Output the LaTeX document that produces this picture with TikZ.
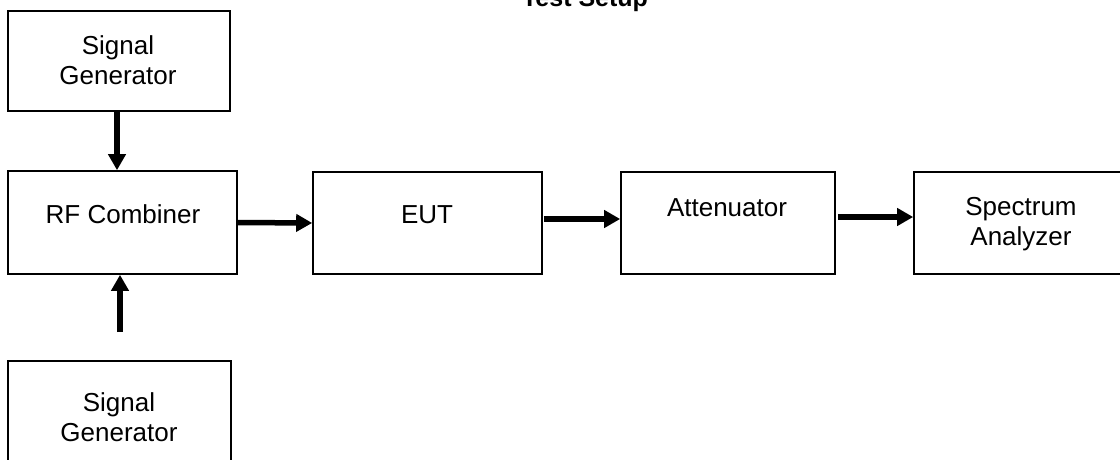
\documentclass[tikz,border=0pt]{standalone}
\usepackage{fontspec}
\setmainfont{Liberation Sans}
\usetikzlibrary{arrows.meta}
\begin{document}
\begin{tikzpicture}[x=1pt,y=-1pt,
  box/.style={draw=black,line width=1.6pt,rectangle,inner sep=0pt},
  lbl/.style={inner sep=0pt,font=\fontsize{26}{30}\selectfont,align=center},
  arr/.style={line width=5.5pt,-{Triangle[length=16pt,width=17pt]}},
  ttl/.style={inner sep=0pt,font=\fontsize{25}{30}\selectfont\bfseries}]
\useasboundingbox (0,0) rectangle (1120,460);
\node[ttl,anchor=base] (title) at (585,7) {Test Setup};
\node[box,minimum width=222pt,minimum height=100pt] (sg1) at (119,61) {};
\node[box,minimum width=229pt,minimum height=103pt] (rf) at (122.5,222.5) {};
\node[box,minimum width=223pt,minimum height=100pt] (sg2) at (119.5,411) {};
\node[box,minimum width=229pt,minimum height=102pt] (eut) at (427.5,223) {};
\node[box,minimum width=214pt,minimum height=102pt] (att) at (728,223) {};
\node[box,minimum width=214pt,minimum height=102pt] (sa) at (1021,223) {};
\node[lbl] (sg1t) at (118,60.5) {Signal\\Generator};
\node[lbl,anchor=base] (rft) at (123,223) {RF Combiner};
\node[lbl] (sg2t) at (119,417.5) {Signal\\Generator};
\node[lbl,anchor=base] (eutt) at (427,223) {EUT};
\node[lbl,anchor=base] (attt) at (727,216) {Attenuator};
\node[lbl] (sat) at (1021,224) {Spectrum\\Analyzer};
\coordinate (b2) at (120,332);
\draw[arr] ([xshift=-2pt]sg1.south) -- ([xshift=-2pt]sg1.south |- rf.north);
\draw[arr] (b2) -- (b2 |- rf.south);
\draw[arr] (rf.east) -- (eut.west);
\draw[arr] ([shift={(1pt,4pt)}]eut.east) -- ([yshift=4pt]att.west);
\draw[arr] ([shift={(2pt,6pt)}]att.east) -- ([yshift=6pt]sa.west);
\end{tikzpicture}
\end{document}
